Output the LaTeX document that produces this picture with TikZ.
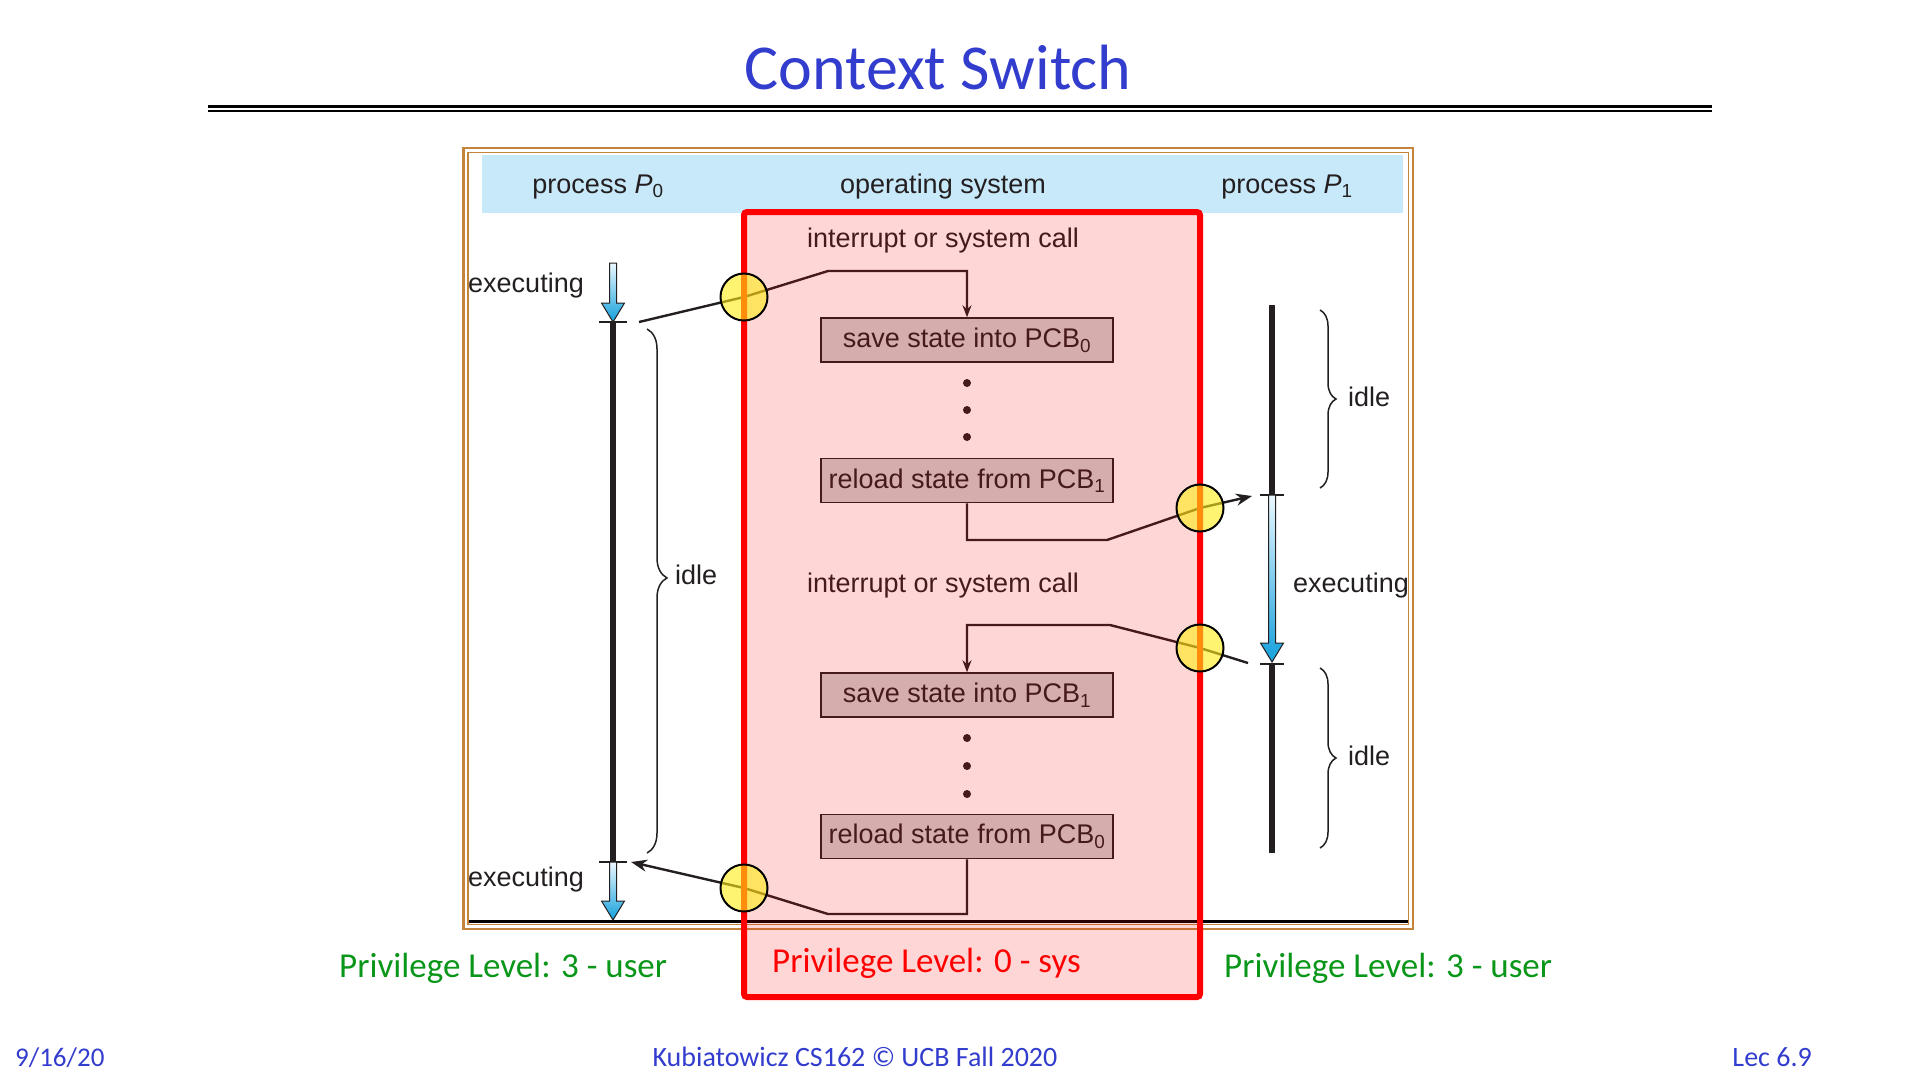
\documentclass[tikz,border=0pt]{standalone}
\usepackage{fontspec}
\setmainfont{Liberation Sans}
\newfontfamily\gill{Carlito}
\usetikzlibrary{arrows.meta,decorations.pathreplacing}
\definecolor{slideblue}{RGB}{50,60,205}
\definecolor{lvlgreen}{RGB}{10,150,25}
\definecolor{framebrown}{RGB}{196,132,60}
\definecolor{headblue}{RGB}{200,233,250}
\definecolor{ink}{RGB}{35,31,32}
\definecolor{hubyellow}{RGB}{255,236,20}
\definecolor{execcyan}{RGB}{20,160,220}
\definecolor{execpale}{RGB}{235,248,255}
\tikzset{
  lbl/.style={font=\fontsize{27}{32}\selectfont, text=ink, inner sep=0pt},
  pcb/.style={draw=ink, line width=1.5pt, fill=black!19, minimum width=292pt,
    minimum height=44pt, lbl},
  hub/.style={circle, draw=black, line width=2pt, fill=hubyellow,
    fill opacity=0.6, minimum size=47pt, inner sep=0pt},
  link/.style={draw=ink, line width=2.4pt},
  tick/.style={ink, line width=1.5pt},
  bar/.style={ink, line width=5.5pt},
  idlebrace/.style={decorate, decoration={brace, amplitude=#1}, ink, line width=1.5pt},
  lvl/.style={font=\gill\fontsize{35}{40}\selectfont, inner sep=0pt, anchor=base west},
}
% blue "executing" arrow: x, top, tip
\newcommand{\execarrow}[3]{%
  \draw[ink, line width=1pt, top color=execpale, bottom color=execcyan]
    (#1-3.5,#2) -- (#1+3.5,#2) -- (#1+3.5,#3-19) -- (#1+11.5,#3-19)
    -- (#1,#3) -- (#1-11.5,#3-19) -- (#1-3.5,#3-19) -- cycle;}
\begin{document}
\begin{tikzpicture}[x=1pt, y=-1pt]
  \useasboundingbox (0,0) rectangle (1920,1080);
  % frame and header
  \draw[framebrown, line width=2.5pt] (463.5,148) rectangle (1413,929);
  \draw[framebrown, line width=1.2pt] (468,152.5) rectangle (1408.5,924.5);
  \fill[headblue] (482,155) rectangle (1403,213);
  \node[lbl, anchor=base] (headp0) at (598,193) {process \textit{P}\textsubscript{0}};
  \node[lbl, anchor=base] (heados) at (943,193) {operating system};
  \node[lbl, anchor=base] (headp1) at (1287,193) {process \textit{P}\textsubscript{1}};
  \draw[black, line width=3pt] (469,921) -- (1408,921);

  % process P0
  \coordinate (p0out) at (639,322);
  \coordinate (p0in) at (631,862);
  \draw[bar] (613,322) -- (613,862);
  \foreach \y in {322,862} \draw[tick] (599,\y) -- (627,\y);
  \execarrow{613}{263}{322}
  \execarrow{613}{862}{920}
  \node[lbl, anchor=base east] (execp0a) at (584,292) {executing};
  \node[lbl, anchor=base east] (execp0b) at (584,886) {executing};
  \draw[idlebrace=20pt, decoration={aspect=0.475}] (647,329) -- (647,853);
  \node[lbl, anchor=base west] (idlep0) at (675,584) {idle};

  % process P1
  \coordinate (p1in) at (1252,496);
  \coordinate (p1out) at (1248,663);
  \draw[bar] (1272,305) -- (1272,495);
  \draw[bar] (1272,664) -- (1272,853);
  \foreach \y in {495,664} \draw[tick] (1260,\y) -- (1284,\y);
  \execarrow{1272}{495}{662}
  \node[lbl, anchor=base west] (execp1) at (1293,592) {executing};
  \draw[idlebrace=16pt] (1320,310) -- (1320,488);
  \draw[idlebrace=16pt] (1320,668) -- (1320,848);
  \node[lbl, anchor=base west] (idlep1a) at (1348,406) {idle};
  \node[lbl, anchor=base west] (idlep1b) at (1348,765) {idle};

  % operating system
  \node[lbl, anchor=base] (irq0) at (943,247) {interrupt or system call};
  \node[lbl, anchor=base] (irq1) at (943,592) {interrupt or system call};
  \node[pcb] (save0) at (967,340) {save state into PCB\textsubscript{0}};
  \node[pcb] (reload1) at (967,480.5) {reload state from PCB\textsubscript{1}};
  \node[pcb] (save1) at (967,695) {save state into PCB\textsubscript{1}};
  \node[pcb] (reload0) at (967,836.5) {reload state from PCB\textsubscript{0}};
  \foreach \y in {383,410,437,738,766,794} \fill[ink] (967,\y) circle (4pt);

  % switches
  \coordinate (h1) at (744,297);
  \coordinate (h2) at (1200,508);
  \coordinate (h3) at (1200,648);
  \coordinate (h4) at (744,888);
  \coordinate (bend1) at (828,271);
  \coordinate (bend2) at (1107,540);
  \coordinate (bend3) at (1110,625);
  \coordinate (bend4) at (828,914);
  \draw[link, -{Stealth[length=12pt,width=9pt]}] (p0out) -- (h1) -- (bend1) -| (save0.north);
  \draw[link, -{Stealth[length=16pt,width=12pt]}] (reload1.south) |- (bend2) -- (h2) -- (p1in);
  \draw[link, -{Stealth[length=12pt,width=9pt]}] (p1out) -- (h3) -- (bend3) -| (save1.north);
  \draw[link, -{Stealth[length=16pt,width=12pt]}] (reload0.south) |- (bend4) -- (h4) -- (p0in);

  % kernel region
  \fill[red, fill opacity=0.16] (744,212) rectangle (1200,997);
  \draw[red, line width=6pt, rounded corners=3pt] (744,212) rectangle (1200,997);
  \foreach \i in {1,...,4} \node[hub] (hub\i) at (h\i) {};

  % privilege levels
  \node[lvl, text=lvlgreen] (lvluser0) at (339,977) {Privilege Level: 3 - user};
  \node[lvl, text=red] (lvlsys) at (772,972) {Privilege Level: 0 - sys};
  \node[lvl, text=lvlgreen] (lvluser1) at (1224,977) {Privilege Level: 3 - user};

  % title and footer
  \node[font=\gill\fontsize{64}{70}\selectfont, text=slideblue, anchor=base, inner sep=0pt]
    (title) at (938,89) {Context Switch};
  \draw[line width=2.2pt] (208,106.5) -- (1712,106.5);
  \draw[line width=2.2pt] (208,110.8) -- (1712,110.8);
  \node[font=\gill\fontsize{27}{32}\selectfont, text=slideblue, anchor=base west, inner sep=0pt]
    (date) at (15,1066) {9/16/20};
  \node[font=\gill\fontsize{28}{32}\selectfont, text=slideblue, anchor=base, inner sep=0pt]
    (course) at (855,1066) {Kubiatowicz CS162 \textcopyright{} UCB Fall 2020};
  \node[font=\gill\fontsize{28}{32}\selectfont, text=slideblue, anchor=base east, inner sep=0pt]
    (lec) at (1812,1066) {Lec 6.9};
\end{tikzpicture}
\end{document}
